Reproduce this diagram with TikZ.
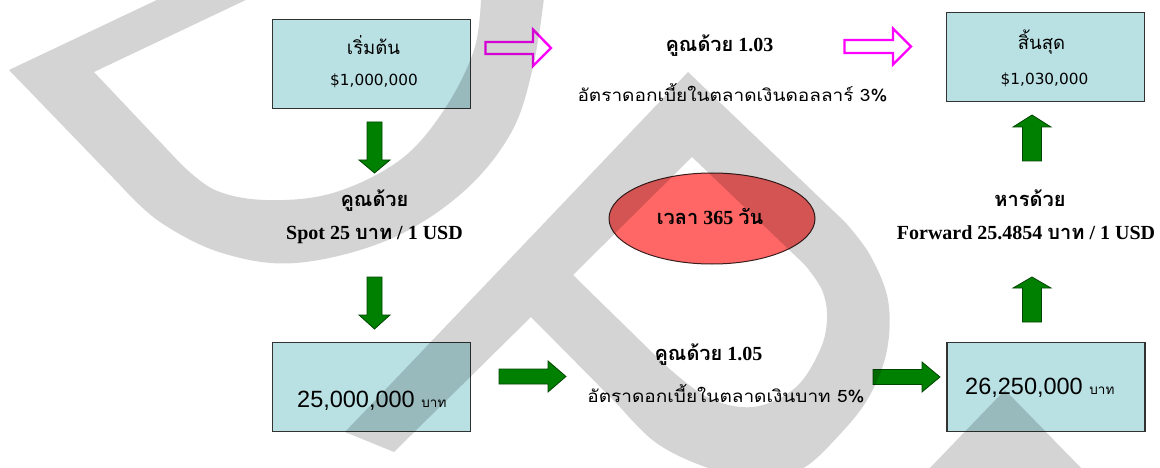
\documentclass[tikz,border=0pt]{standalone}
\usepackage{fontspec}
\usepackage{graphicx}
\setmainfont{Liberation Serif}
\newfontfamily\thaif[Script=Thai]{Loma}
\newfontfamily\dejav{DejaVu Sans}
\newfontfamily\arialf{Liberation Sans}
\usetikzlibrary{shapes.geometric}
\definecolor{boxblue}{RGB}{185,224,227}
\definecolor{boxline}{RGB}{50,50,50}
\definecolor{agreen}{RGB}{0,128,0}
\definecolor{agreenD}{RGB}{0,70,0}
\definecolor{mag}{RGB}{255,0,255}
\definecolor{ellred}{RGB}{255,102,102}
\definecolor{ellline}{RGB}{60,30,30}
\tikzset{
  boxst/.style={draw=boxline, fill=boxblue, line width=1.2pt, inner sep=0pt},
  ellst/.style={ellipse, draw=ellline, fill=ellred, line width=1pt, inner sep=0pt},
  garrow/.style={fill=agreen, draw=agreenD, line width=0.8pt, line join=miter},
  marrow/.style={draw=mag, fill=white, line width=2.4pt, line join=miter},
  lbl/.style={inner sep=0pt, anchor=base},
  boldlbl/.style={lbl, font=\bfseries\fontsize{20}{20}\selectfont},
  wm/.style={fill=black, fill opacity=0.17},
}
\begin{document}
\begin{tikzpicture}[x=1pt,y=-1pt]
\fill[white] (0,0) rectangle (1160,468);
\useasboundingbox (0,0) rectangle (1160,468);

% boxes
\node[boxst, minimum width=198pt, minimum height=89pt] (start) at (371.5,64) {};
\node[boxst, minimum width=198pt, minimum height=89pt] (finish) at (1045.5,57) {};
\node[boxst, minimum width=198pt, minimum height=89pt] (baht) at (371.5,387) {};
\node[boxst, minimum width=198pt, minimum height=89pt] (bahtend) at (1046,387) {};
\node[ellst, minimum width=206pt, minimum height=91pt] (days) at (712,218.5) {};

% box texts
\node[lbl] (t1) at (373.5,55) {\thaif\fontsize{18.5}{18}\selectfont เริ่มต้น};
\node[lbl] (v1) at (374,86) {\dejav\fontsize{15.3}{15}\selectfont \$1,000,000};
\node[lbl] (t2) at (1041.5,50) {\thaif\fontsize{18.5}{18}\selectfont สิ้นสุด};
\node[lbl] (v2) at (1044.5,85) {\dejav\fontsize{15.3}{15}\selectfont \$1,030,000};
\node[lbl, anchor=base west] (v3) at (297,407) {\arialf\fontsize{23.5}{23}\selectfont 25,000,000 {\thaif\fontsize{13.5}{13}\selectfont บาท}};
\node[lbl, anchor=base west] (v4) at (965,394) {\arialf\fontsize{23.5}{23}\selectfont 26,250,000 {\thaif\fontsize{13.5}{13}\selectfont บาท}};
\node[boldlbl] (d1) at (710,225) {{\thaif เวลา} 365 {\thaif วัน}};

% labels
\node[boldlbl] (k1) at (374.5,207) {\thaif คูณด้วย};
\node[boldlbl] (s1) at (374.5,239) {Spot 25 {\thaif บาท} / 1 USD};
\node[boldlbl] (k2) at (719.5,52) {{\thaif คูณด้วย} 1.03};
\node[lbl] (r1) at (732.5,102) {\scalebox{1.12}[1]{\thaif\fontsize{17}{17}\selectfont อัตราดอกเบี้ยในตลาดเงินดอลลาร์ 3\%}};
\node[boldlbl] (h1) at (1030,207) {\thaif หารด้วย};
\node[boldlbl] (f1) at (1026,240) {Forward 25.4854 {\thaif บาท} / 1 USD};
\node[boldlbl] (k3) at (708.5,360) {{\thaif คูณด้วย} 1.05};
\node[lbl] (r2) at (726,402) {\scalebox{1.12}[1]{\thaif\fontsize{17}{17}\selectfont อัตราดอกเบี้ยในตลาดเงินบาท 5\%}};

% magenta outline arrows
\draw[marrow] (485.5,42) -- (533,42) -- (533,29.5) -- (551,48) -- (533,66) -- (533,54) -- (485.5,54) -- cycle;
\draw[marrow] (844.5,40) -- (893,40) -- (893,28.5) -- (911,46.5) -- (893,64.5) -- (893,53) -- (844.5,53) -- cycle;

% green block arrows
\draw[garrow] (367,122) -- (382,122) -- (382,160) -- (390,160) -- (374.5,173) -- (359,160) -- (367,160) -- cycle;
\draw[garrow] (367,277) -- (382,277) -- (382,315) -- (390,315) -- (374.5,329) -- (359,315) -- (367,315) -- cycle;
\draw[garrow] (499,369) -- (548,369) -- (548,361) -- (566,376.5) -- (548,392) -- (548,384) -- (499,384) -- cycle;
\draw[garrow] (873,369.5) -- (922,369.5) -- (922,362) -- (940,377) -- (922,392) -- (922,384.5) -- (873,384.5) -- cycle;
\draw[garrow] (1022.5,322) -- (1022.5,288) -- (1013,288) -- (1032,277) -- (1051,288) -- (1041.5,288) -- (1041.5,322) -- cycle;
\draw[garrow] (1022.5,161) -- (1022.5,127) -- (1013,127) -- (1032,115) -- (1051,127) -- (1041.5,127) -- (1041.5,161) -- cycle;

% watermark
\fill[wm] (161,-2) -- (9,70) -- (120,185) -- plot[smooth, tension=0.6] coordinates {(120,185) (160,222) (222,253) (296,263) (388,240) (462,193) (511,133) (533,67) (544,-2)} -- (481,-2) -- plot[smooth, tension=0.6] coordinates {(481,-2) (474,50) (444,110) (400,160) (333,193) (266,200) (215,190) (180,163)} -- (94,72) -- (250,-2) -- cycle;
\fill[wm, even odd rule] (688,72) -- (345,432) -- (394,452) -- (531,317) -- (620,407) -- plot[smooth, tension=0.6] coordinates {(620,407) (655,442) (700,465) (750,478) (800,470) (842,432) (870,395) (887,350) (888,300) (870,255) (845,222)} -- cycle
  (692,157) -- (805,265) -- plot[smooth, tension=0.6] coordinates {(805,265) (822,290) (827,318) (820,350) (795,388) (753,407) (707,397) (663,363)} -- (573,275) -- cycle;
\fill[wm] (1005,390) -- (1083,470) -- (928,470) -- cycle;
\end{tikzpicture}
\end{document}
